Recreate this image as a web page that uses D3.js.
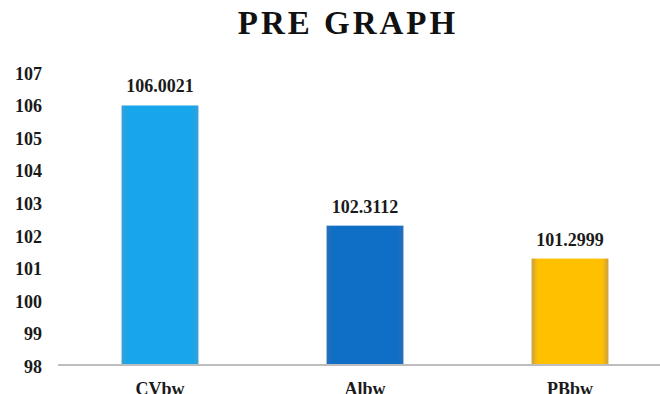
<!DOCTYPE html>
<html>
<head>
<meta charset="utf-8">
<script src="https://cdn.jsdelivr.net/npm/d3@7"></script>
<style>
  html, body { margin: 0; padding: 0; background: #ffffff; }
  svg { display: block; }
</style>
</head>
<body>
<script>
const categories = ["CVbw", "Albw", "PBbw"];
const values = [106.0021, 102.3112, 101.2999];
const valueLabels = ["106.0021", "102.3112", "101.2999"];
const colors = ["#18a6ea", "#0f6ec5", "#ffc000"];
const edgeColors = ["#3a9fd8", "#2a6fb8", "#c9a040"];
const yTicks = [98, 99, 100, 101, 102, 103, 104, 105, 106, 107];
const title = "PRE GRAPH";

const W = 660, H = 394;
const svg = d3.select("body").append("svg").attr("width", W).attr("height", H);
const font = "'Liberation Serif', 'Times New Roman', serif";

const x = d3.scaleBand().domain(categories).range([57.5, 672.5]).paddingInner(0.625).paddingOuter(0.3125);
const y = d3.scaleLinear().domain([98, 107]).range([366, 73]);

const defs = svg.append("defs");
categories.forEach((c, i) => {
  const g = defs.append("linearGradient").attr("id", "g" + i).attr("x1", 0).attr("x2", 1).attr("y1", 0).attr("y2", 0);
  g.append("stop").attr("offset", "0%").attr("stop-color", edgeColors[i]);
  g.append("stop").attr("offset", "8%").attr("stop-color", colors[i]);
  g.append("stop").attr("offset", "92%").attr("stop-color", colors[i]);
  g.append("stop").attr("offset", "100%").attr("stop-color", edgeColors[i]);
});

// title
svg.append("text")
  .attr("x", 348).attr("y", 34)
  .attr("text-anchor", "middle")
  .attr("font-family", font).attr("font-weight", "bold")
  .attr("font-size", 33).attr("letter-spacing", 3)
  .attr("fill", "#111")
  .text(title);

// y axis labels
const yAxis = d3.axisLeft(y).tickValues(yTicks).tickSize(0).tickPadding(0).tickFormat(d3.format("d"));
const ya = svg.append("g").attr("transform", "translate(42,0)").call(yAxis);
ya.select(".domain").remove();
ya.selectAll("text")
  .attr("font-family", font).attr("font-weight", "bold").attr("font-size", 18)
  .attr("fill", "#1a1a1a").attr("dy", "0.35em");

// bars
svg.selectAll("rect.bar").data(values).enter().append("rect")
  .attr("class", "bar")
  .attr("x", (d, i) => x(categories[i]))
  .attr("width", x.bandwidth())
  .attr("y", d => y(d))
  .attr("height", d => y(98) - y(d))
  .attr("fill", (d, i) => "url(#g" + i + ")");

// x axis line
svg.append("line")
  .attr("x1", 58).attr("x2", 660)
  .attr("y1", y(98) - 1).attr("y2", y(98) - 1)
  .attr("stroke", "#bdbdbd").attr("stroke-width", 2);

// value labels
svg.selectAll("text.val").data(values).enter().append("text")
  .attr("class", "val")
  .attr("x", (d, i) => x(categories[i]) + x.bandwidth() / 2)
  .attr("y", d => y(d) - 13)
  .attr("text-anchor", "middle")
  .attr("font-family", font).attr("font-weight", "bold").attr("font-size", 18)
  .attr("fill", "#1a1a1a")
  .text((d, i) => valueLabels[i]);

// category labels (cut off at the bottom edge, as in the reference)
svg.selectAll("text.cat").data(categories).enter().append("text")
  .attr("class", "cat")
  .attr("x", d => x(d) + x.bandwidth() / 2)
  .attr("y", 395)
  .attr("text-anchor", "middle")
  .attr("font-family", font).attr("font-weight", "bold").attr("font-size", 18)
  .attr("fill", "#1a1a1a")
  .text(d => d);
</script>
</body>
</html>
